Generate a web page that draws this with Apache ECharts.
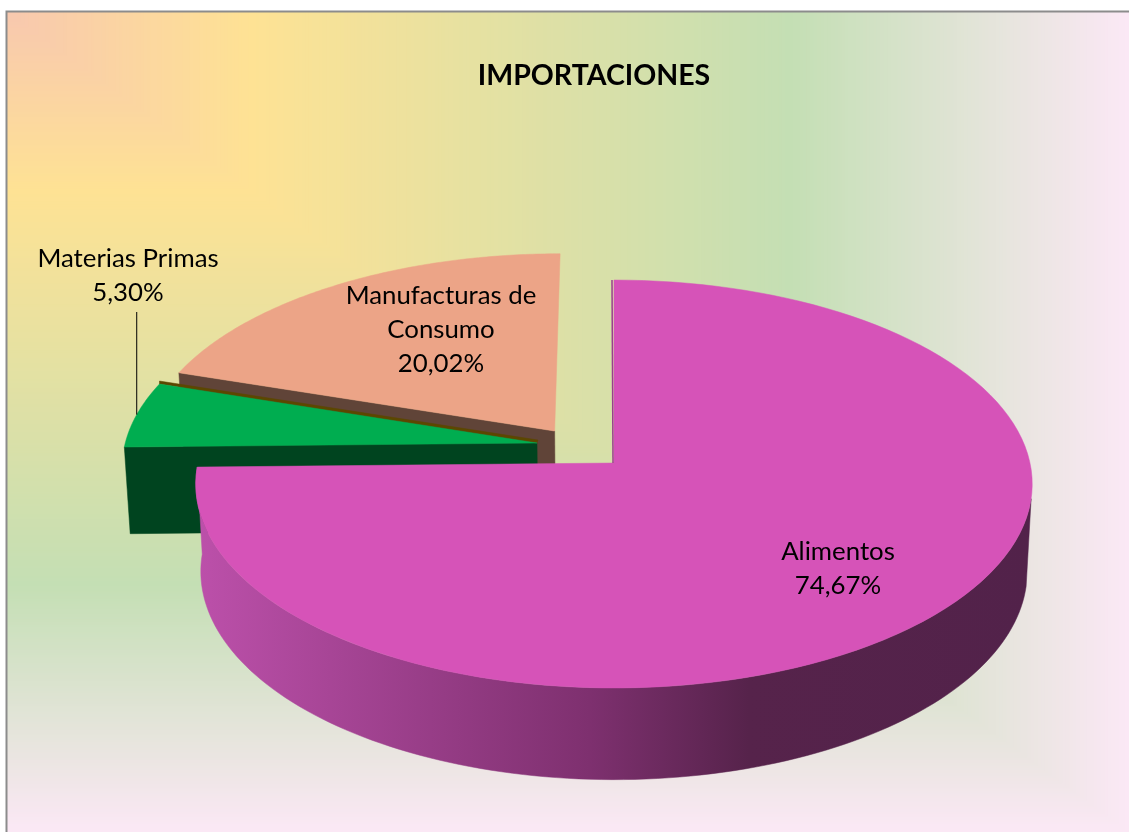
<!DOCTYPE html>
<html>
<head>
<meta charset="utf-8">
<title>Importaciones</title>
<script src="https://cdn.jsdelivr.net/npm/echarts@6/dist/echarts.min.js"></script>
<style>
  html, body { margin: 0; padding: 0; background: #fff; }
  #chart { width: 1129px; height: 832px; }
</style>
</head>
<body>
<div id="chart"></div>
<script>
// data, clockwise from 12 o'clock
const categories = ['Alimentos', 'Materias Primas', 'Manufacturas de\nConsumo']
const shares = [74.67, 5.30, 20.02]
const chartTitle = 'IMPORTACIONES'

const sliceColors = ['#D653B8', '#00AD50', '#ECA487']
const cutColors = ['#9A3F8D', '#00441F', '#604438']
const explode = [[0, 0], [-0.187, 0.1], [-0.145, 0.161]]
const labelPos = [[838, 569], [128, 276], [441, 330]]

// perspective model: unit circle on the top and on the bottom plane of the disc
const topPlane = { cx: 614, cy: 463, rx: 416, ry: 201.8 }
const bottomPlane = { cx: 614, cy: 550, rx: 411, ry: 206 }
const persp = 0.103

const frame = { x: 7, y: 12, w: 1122, h: 820 }
const bgStops = [
  [0, [248, 200, 175]],
  [0.22, [254, 226, 148]],
  [0.7, [196, 223, 180]],
  [1, [251, 232, 245]],
]

const total = shares.reduce((a, b) => a + b, 0)
const angleStart = []
const angleEnd = []
shares.reduce((acc, v, i) => {
  angleStart[i] = (acc / total) * Math.PI * 2
  angleEnd[i] = ((acc + v) / total) * Math.PI * 2
  return acc + v
}, 0)

function project(plane, u, v) {
  const w = 1 + persp * v
  return [plane.cx + (plane.rx * u) / w, plane.cy - (plane.ry * v) / w]
}

function rim(plane, i, a) {
  return project(plane, Math.sin(a) + explode[i][0], Math.cos(a) + explode[i][1])
}

function apex(plane, i) {
  return project(plane, explode[i][0], explode[i][1])
}

function arc(plane, i, a0, a1) {
  const pts = []
  const n = 120
  for (let k = 0; k <= n; k++) pts.push(rim(plane, i, a0 + ((a1 - a0) * k) / n))
  return pts
}

function poly(points, fill) {
  return {
    type: 'polygon',
    shape: { points },
    style: { fill, stroke: fill, lineWidth: 0.5 },
  }
}

const wallGradient = {
  type: 'linear',
  global: true,
  x: 197, y: 0, x2: 1033, y2: 0,
  colorStops: [
    { offset: 0, color: '#BC50AA' },
    { offset: 0.47, color: '#7E306F' },
    { offset: 0.66, color: '#56234B' },
    { offset: 1, color: '#52224A' },
  ],
}

function renderSlice(params, api) {
  const i = api.value(0)
  const a0 = angleStart[i]
  const a1 = angleEnd[i]
  const children = []

  if (i === 0) {
    // outer wall of the big slice, right silhouette to the left cut
    const from = (100 / 180) * Math.PI
    const topArc = arc(topPlane, i, from, a1)
    const bottomArc = arc(bottomPlane, i, from, a1).reverse()
    children.push(poly(topArc.concat(bottomArc), wallGradient))
  } else {
    // cut face that looks at the viewer
    children.push(poly([
      apex(topPlane, i),
      rim(topPlane, i, a0),
      rim(bottomPlane, i, a0),
      apex(bottomPlane, i),
    ], cutColors[i]))
  }

  if (i === 1) {
    // thin olive back face above the green top
    const a = apex(topPlane, i)
    const b = rim(topPlane, i, a1)
    children.push(poly([[a[0] + 1, a[1] - 3], [b[0], b[1] - 3], b, a], '#5C4700'))
  }

  const top = [apex(topPlane, i)].concat(arc(topPlane, i, a0, a1))
  children.push(poly(top, sliceColors[i]))

  if (i === 0) {
    const a = apex(topPlane, i)
    const b = rim(topPlane, i, 0)
    children.push({
      type: 'polyline',
      shape: { points: [[a[0] - 1, a[1]], [b[0] - 2, b[1]]] },
      style: { stroke: cutColors[0], lineWidth: 1.5, fill: null },
    })
  }

  if (i === 1) {
    // leader line from the label down to the rim
    const end = rim(topPlane, i, (a0 + a1) / 2)
    children.push({
      type: 'line',
      shape: { x1: end[0], y1: labelPos[i][1] + 36, x2: end[0], y2: end[1] },
      style: { stroke: '#000', lineWidth: 1 },
    })
  }

  const pct = shares[i].toFixed(2).replace('.', ',') + '%'
  children.push({
    type: 'text',
    z2: 10,
    style: {
      x: labelPos[i][0],
      y: labelPos[i][1],
      text: categories[i] + '\n' + pct,
      align: 'center',
      verticalAlign: 'middle',
      font: '25.8px Lato',
      lineHeight: 34,
      fill: '#000',
    },
  })
  return { type: 'group', children }
}

// rectangular gradient growing out of the top left corner
function bgColor(t) {
  let k = 0
  while (k < bgStops.length - 2 && t > bgStops[k + 1][0]) k++
  const [t0, c0] = bgStops[k]
  const [t1, c1] = bgStops[k + 1]
  const f = (t - t0) / (t1 - t0)
  const c = c0.map((x, j) => Math.round(x + (c1[j] - x) * f))
  return `rgb(${c[0]},${c[1]},${c[2]})`
}

const bgRects = []
const steps = 320
for (let s = steps; s > 0; s--) {
  const t = s / steps
  bgRects.push({
    type: 'rect',
    silent: true,
    shape: { x: frame.x, y: frame.y, width: frame.w * t, height: frame.h * t },
    style: { fill: bgColor(t) },
  })
}
bgRects.push({
  type: 'polyline',
  silent: true,
  shape: { points: [[frame.x - 0.5, frame.y + frame.h], [frame.x - 0.5, frame.y - 0.5], [frame.x + frame.w, frame.y - 0.5]] },
  style: { stroke: '#8C8C8C', lineWidth: 2, fill: null },
})

const chart = echarts.init(document.getElementById('chart'), null, { renderer: 'canvas' })
chart.setOption({
  animation: false,
  backgroundColor: '#fff',
  title: {
    text: chartTitle,
    left: 589,
    top: 71,
    textAlign: 'center',
    textVerticalAlign: 'middle',
    textStyle: { fontFamily: 'Lato', fontWeight: 'bold', fontSize: 28.5, color: '#000' },
  },
  graphic: { elements: [{ type: 'group', z: -1, children: bgRects }] },
  series: [{
    type: 'custom',
    coordinateSystem: 'none',
    silent: true,
    clip: false,
    renderItem: renderSlice,
    // painted back to front
    data: [[2], [1], [0]],
  }],
})
</script>
</body>
</html>
